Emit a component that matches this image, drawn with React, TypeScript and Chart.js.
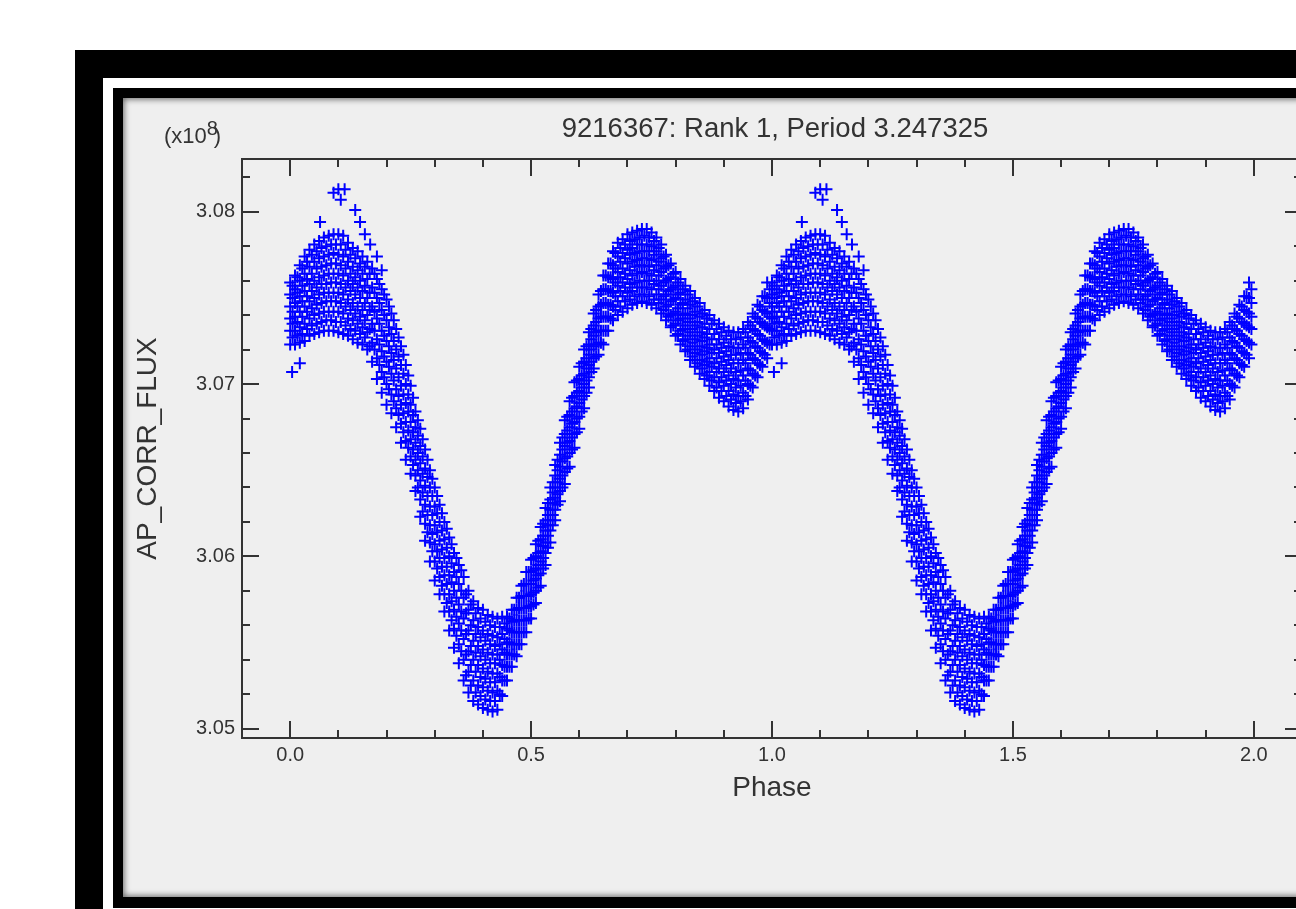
import React, { useEffect, useRef } from 'react';
import { Chart, registerables } from 'chart.js';

Chart.register(...registerables);

const FAMILY = "'Liberation Sans', Arial, Helvetica, sans-serif";

const TITLE = '9216367: Rank 1, Period 3.247325';
const X_TITLE = 'Phase';
const Y_TITLE = 'AP_CORR_FLUX';
const Y_SCALE_PREFIX = '(x10';
const Y_SCALE_EXP = '8';
const Y_SCALE_SUFFIX = ')';

const X_MIN = -0.1;
const X_MAX = 2.1;
const Y_MIN = 3.04946;
const Y_MAX = 3.08306;

const X_MAJOR = [0, 0.5, 1.0, 1.5, 2.0];
const X_MINOR = [-0.1, 0.1, 0.2, 0.3, 0.4, 0.6, 0.7, 0.8, 0.9, 1.1, 1.2, 1.3, 1.4, 1.6, 1.7, 1.8, 1.9, 2.1];
const Y_MAJOR = [3.05, 3.06, 3.07, 3.08];
const Y_MINOR = [3.052, 3.054, 3.056, 3.058, 3.062, 3.064, 3.066, 3.068, 3.072, 3.074, 3.076, 3.078, 3.082];

// phase grid of the folded light curve (one cycle, shown again at +1 as in the plot)
const PHASE = [
  0.00, 0.01, 0.02, 0.03, 0.04, 0.05, 0.06, 0.07, 0.08, 0.09,
  0.10, 0.11, 0.12, 0.13, 0.14, 0.15, 0.16, 0.17, 0.18, 0.19,
  0.20, 0.21, 0.22, 0.23, 0.24, 0.25, 0.26, 0.27, 0.28, 0.29,
  0.30, 0.31, 0.32, 0.33, 0.34, 0.35, 0.36, 0.37, 0.38, 0.39,
  0.40, 0.41, 0.42, 0.43, 0.44, 0.45, 0.46, 0.47, 0.48, 0.49,
  0.50, 0.51, 0.52, 0.53, 0.54, 0.55, 0.56, 0.57, 0.58, 0.59,
  0.60, 0.61, 0.62, 0.63, 0.64, 0.65, 0.66, 0.67, 0.68, 0.69,
  0.70, 0.71, 0.72, 0.73, 0.74, 0.75, 0.76, 0.77, 0.78, 0.79,
  0.80, 0.81, 0.82, 0.83, 0.84, 0.85, 0.86, 0.87, 0.88, 0.89,
  0.90, 0.91, 0.92, 0.93, 0.94, 0.95, 0.96, 0.97, 0.98, 0.99,
];
const PHASE_MID = [
  0.005, 0.015, 0.025, 0.035, 0.045, 0.055, 0.065, 0.075, 0.085, 0.095,
  0.105, 0.115, 0.125, 0.135, 0.145, 0.155, 0.165, 0.175, 0.185, 0.195,
  0.205, 0.215, 0.225, 0.235, 0.245, 0.255, 0.265, 0.275, 0.285, 0.295,
  0.305, 0.315, 0.325, 0.335, 0.345, 0.355, 0.365, 0.375, 0.385, 0.395,
  0.405, 0.415, 0.425, 0.435, 0.445, 0.455, 0.465, 0.475, 0.485, 0.495,
  0.505, 0.515, 0.525, 0.535, 0.545, 0.555, 0.565, 0.575, 0.585, 0.595,
  0.605, 0.615, 0.625, 0.635, 0.645, 0.655, 0.665, 0.675, 0.685, 0.695,
  0.705, 0.715, 0.725, 0.735, 0.745, 0.755, 0.765, 0.775, 0.785, 0.795,
  0.805, 0.815, 0.825, 0.835, 0.845, 0.855, 0.865, 0.875, 0.885, 0.895,
  0.905, 0.915, 0.925, 0.935, 0.945, 0.955, 0.965, 0.975, 0.985, 0.995,
];

// AP_CORR_FLUX (x1e8) tracks at PHASE, from highest to lowest
const FLUX_T1 = [
  3.0759, 3.0763, 3.0769, 3.0774, 3.0778, 3.0781, 3.0783, 3.0785, 3.0786, 3.0787,
  3.0787, 3.0786, 3.0782, 3.0779, 3.0777, 3.0774, 3.0771, 3.0767, 3.0761, 3.0755,
  3.0749, 3.0741, 3.0732, 3.0722, 3.0711, 3.0699, 3.0684, 3.0674, 3.0662, 3.0650,
  3.0640, 3.0630, 3.0620, 3.0611, 3.0602, 3.0595, 3.0588, 3.0580, 3.0574, 3.0570,
  3.0569, 3.0566, 3.0565, 3.0564, 3.0565, 3.0565, 3.0569, 3.0576, 3.0583, 3.0591,
  3.0598, 3.0607, 3.0617, 3.0628, 3.0640, 3.0653, 3.0666, 3.0679, 3.0690, 3.0701,
  3.0710, 3.0720, 3.0730, 3.0741, 3.0752, 3.0763, 3.0770, 3.0777, 3.0782, 3.0784,
  3.0787, 3.0788, 3.0789, 3.0790, 3.0790, 3.0788, 3.0785, 3.0781, 3.0775, 3.0770,
  3.0765, 3.0761, 3.0757, 3.0754, 3.0750, 3.0747, 3.0743, 3.0740, 3.0737, 3.0735,
  3.0733, 3.0731, 3.0730, 3.0730, 3.0732, 3.0736, 3.0741, 3.0746, 3.0751, 3.0759,
];
const FLUX_T2 = [
  3.0752, 3.0755, 3.0760, 3.0764, 3.0768, 3.0771, 3.0773, 3.0774, 3.0775, 3.0776,
  3.0775, 3.0774, 3.0771, 3.0768, 3.0766, 3.0764, 3.0761, 3.0756, 3.0750, 3.0743,
  3.0737, 3.0729, 3.0720, 3.0711, 3.0700, 3.0688, 3.0675, 3.0664, 3.0651, 3.0640,
  3.0629, 3.0620, 3.0610, 3.0600, 3.0591, 3.0584, 3.0576, 3.0569, 3.0563, 3.0559,
  3.0557, 3.0555, 3.0554, 3.0553, 3.0555, 3.0558, 3.0562, 3.0569, 3.0577, 3.0584,
  3.0591, 3.0600, 3.0610, 3.0621, 3.0633, 3.0647, 3.0659, 3.0671, 3.0682, 3.0693,
  3.0703, 3.0713, 3.0723, 3.0734, 3.0745, 3.0755, 3.0762, 3.0769, 3.0774, 3.0776,
  3.0778, 3.0779, 3.0781, 3.0781, 3.0781, 3.0780, 3.0777, 3.0773, 3.0768, 3.0762,
  3.0757, 3.0753, 3.0749, 3.0746, 3.0742, 3.0739, 3.0735, 3.0732, 3.0729, 3.0726,
  3.0724, 3.0722, 3.0721, 3.0721, 3.0723, 3.0727, 3.0732, 3.0738, 3.0743, 3.0750,
];
const FLUX_T3 = [
  3.0745, 3.0747, 3.0751, 3.0754, 3.0758, 3.0760, 3.0762, 3.0763, 3.0764, 3.0764,
  3.0764, 3.0763, 3.0760, 3.0758, 3.0756, 3.0754, 3.0750, 3.0745, 3.0738, 3.0731,
  3.0725, 3.0718, 3.0709, 3.0699, 3.0689, 3.0678, 3.0666, 3.0654, 3.0641, 3.0629,
  3.0618, 3.0609, 3.0599, 3.0589, 3.0580, 3.0572, 3.0564, 3.0557, 3.0551, 3.0548,
  3.0546, 3.0544, 3.0543, 3.0543, 3.0546, 3.0550, 3.0556, 3.0563, 3.0570, 3.0577,
  3.0584, 3.0593, 3.0603, 3.0615, 3.0627, 3.0640, 3.0652, 3.0664, 3.0675, 3.0686,
  3.0696, 3.0706, 3.0717, 3.0728, 3.0738, 3.0747, 3.0754, 3.0761, 3.0765, 3.0767,
  3.0770, 3.0771, 3.0772, 3.0773, 3.0773, 3.0772, 3.0769, 3.0765, 3.0760, 3.0755,
  3.0750, 3.0746, 3.0741, 3.0738, 3.0734, 3.0730, 3.0727, 3.0723, 3.0720, 3.0718,
  3.0716, 3.0714, 3.0712, 3.0712, 3.0714, 3.0718, 3.0724, 3.0729, 3.0735, 3.0741,
];
const FLUX_T4 = [
  3.0738, 3.0739, 3.0742, 3.0745, 3.0748, 3.0750, 3.0752, 3.0753, 3.0753, 3.0753,
  3.0753, 3.0752, 3.0749, 3.0747, 3.0745, 3.0743, 3.0740, 3.0735, 3.0726, 3.0719,
  3.0713, 3.0706, 3.0697, 3.0688, 3.0678, 3.0668, 3.0656, 3.0644, 3.0630, 3.0618,
  3.0607, 3.0599, 3.0589, 3.0578, 3.0569, 3.0561, 3.0552, 3.0545, 3.0540, 3.0537,
  3.0535, 3.0533, 3.0532, 3.0532, 3.0537, 3.0543, 3.0549, 3.0556, 3.0563, 3.0570,
  3.0578, 3.0587, 3.0597, 3.0608, 3.0621, 3.0634, 3.0645, 3.0657, 3.0667, 3.0678,
  3.0689, 3.0700, 3.0711, 3.0722, 3.0731, 3.0739, 3.0746, 3.0753, 3.0757, 3.0759,
  3.0761, 3.0763, 3.0764, 3.0765, 3.0764, 3.0763, 3.0760, 3.0757, 3.0752, 3.0748,
  3.0742, 3.0738, 3.0734, 3.0730, 3.0726, 3.0722, 3.0719, 3.0715, 3.0712, 3.0709,
  3.0707, 3.0705, 3.0703, 3.0702, 3.0705, 3.0709, 3.0715, 3.0721, 3.0726, 3.0733,
];
const FLUX_T5 = [
  3.0731, 3.0731, 3.0733, 3.0735, 3.0738, 3.0740, 3.0741, 3.0742, 3.0742, 3.0742,
  3.0742, 3.0741, 3.0738, 3.0737, 3.0735, 3.0733, 3.0730, 3.0724, 3.0715, 3.0707,
  3.0700, 3.0694, 3.0686, 3.0677, 3.0667, 3.0658, 3.0647, 3.0633, 3.0619, 3.0608,
  3.0597, 3.0588, 3.0578, 3.0568, 3.0558, 3.0549, 3.0540, 3.0533, 3.0528, 3.0525,
  3.0524, 3.0522, 3.0521, 3.0522, 3.0528, 3.0536, 3.0543, 3.0549, 3.0556, 3.0563,
  3.0571, 3.0580, 3.0590, 3.0602, 3.0615, 3.0627, 3.0638, 3.0649, 3.0660, 3.0671,
  3.0681, 3.0693, 3.0704, 3.0715, 3.0724, 3.0731, 3.0739, 3.0745, 3.0748, 3.0751,
  3.0753, 3.0754, 3.0756, 3.0756, 3.0756, 3.0755, 3.0752, 3.0749, 3.0745, 3.0740,
  3.0735, 3.0731, 3.0726, 3.0722, 3.0718, 3.0714, 3.0711, 3.0707, 3.0704, 3.0701,
  3.0699, 3.0696, 3.0694, 3.0693, 3.0695, 3.0700, 3.0706, 3.0712, 3.0718, 3.0724,
];
const FLUX_T6 = [
  3.0723, 3.0723, 3.0724, 3.0725, 3.0728, 3.0729, 3.0730, 3.0731, 3.0731, 3.0731,
  3.0730, 3.0729, 3.0728, 3.0726, 3.0724, 3.0723, 3.0720, 3.0713, 3.0703, 3.0695,
  3.0688, 3.0683, 3.0675, 3.0666, 3.0656, 3.0648, 3.0638, 3.0623, 3.0609, 3.0597,
  3.0586, 3.0578, 3.0568, 3.0557, 3.0547, 3.0538, 3.0528, 3.0521, 3.0516, 3.0514,
  3.0512, 3.0511, 3.0510, 3.0511, 3.0519, 3.0528, 3.0536, 3.0542, 3.0549, 3.0556,
  3.0564, 3.0573, 3.0583, 3.0595, 3.0608, 3.0621, 3.0632, 3.0642, 3.0652, 3.0663,
  3.0674, 3.0686, 3.0698, 3.0709, 3.0717, 3.0723, 3.0731, 3.0737, 3.0740, 3.0742,
  3.0744, 3.0746, 3.0747, 3.0748, 3.0747, 3.0746, 3.0744, 3.0741, 3.0737, 3.0733,
  3.0728, 3.0723, 3.0719, 3.0714, 3.0710, 3.0706, 3.0703, 3.0699, 3.0696, 3.0692,
  3.0690, 3.0687, 3.0685, 3.0684, 3.0686, 3.0691, 3.0698, 3.0704, 3.0710, 3.0715,
];

// tracks at PHASE_MID, lying between the tracks above
const FLUX_M1 = [
  3.0757, 3.0762, 3.0767, 3.0771, 3.0775, 3.0777, 3.0779, 3.0780, 3.0781, 3.0781,
  3.0781, 3.0778, 3.0775, 3.0773, 3.0770, 3.0768, 3.0764, 3.0764, 3.0758, 3.0752,
  3.0745, 3.0737, 3.0727, 3.0717, 3.0705, 3.0692, 3.0679, 3.0668, 3.0656, 3.0645,
  3.0635, 3.0625, 3.0616, 3.0607, 3.0599, 3.0592, 3.0578, 3.0572, 3.0567, 3.0564,
  3.0562, 3.0560, 3.0559, 3.0559, 3.0561, 3.0564, 3.0569, 3.0576, 3.0584, 3.0591,
  3.0599, 3.0609, 3.0619, 3.0631, 3.0643, 3.0656, 3.0669, 3.0681, 3.0692, 3.0702,
  3.0712, 3.0722, 3.0732, 3.0743, 3.0754, 3.0763, 3.0770, 3.0776, 3.0779, 3.0781,
  3.0783, 3.0784, 3.0785, 3.0786, 3.0785, 3.0783, 3.0779, 3.0774, 3.0769, 3.0764,
  3.0759, 3.0755, 3.0752, 3.0748, 3.0745, 3.0741, 3.0738, 3.0735, 3.0732, 3.0730,
  3.0728, 3.0726, 3.0726, 3.0727, 3.0730, 3.0734, 3.0739, 3.0745, 3.0751, 3.0755,
];
const FLUX_M2 = [
  3.0750, 3.0753, 3.0757, 3.0761, 3.0764, 3.0767, 3.0768, 3.0769, 3.0770, 3.0770,
  3.0769, 3.0767, 3.0764, 3.0762, 3.0760, 3.0757, 3.0753, 3.0753, 3.0747, 3.0740,
  3.0733, 3.0725, 3.0716, 3.0706, 3.0694, 3.0682, 3.0670, 3.0658, 3.0646, 3.0635,
  3.0625, 3.0615, 3.0605, 3.0596, 3.0588, 3.0580, 3.0567, 3.0560, 3.0555, 3.0553,
  3.0551, 3.0549, 3.0548, 3.0549, 3.0552, 3.0557, 3.0563, 3.0570, 3.0577, 3.0584,
  3.0592, 3.0602, 3.0612, 3.0624, 3.0637, 3.0650, 3.0662, 3.0673, 3.0684, 3.0695,
  3.0705, 3.0715, 3.0726, 3.0736, 3.0746, 3.0755, 3.0762, 3.0767, 3.0771, 3.0773,
  3.0775, 3.0776, 3.0777, 3.0777, 3.0777, 3.0775, 3.0771, 3.0767, 3.0761, 3.0756,
  3.0752, 3.0747, 3.0744, 3.0740, 3.0736, 3.0733, 3.0729, 3.0726, 3.0723, 3.0721,
  3.0719, 3.0717, 3.0717, 3.0718, 3.0721, 3.0725, 3.0731, 3.0736, 3.0742, 3.0747,
];
const FLUX_M3 = [
  3.0742, 3.0745, 3.0748, 3.0751, 3.0754, 3.0756, 3.0758, 3.0758, 3.0759, 3.0759,
  3.0758, 3.0756, 3.0754, 3.0752, 3.0750, 3.0747, 3.0743, 3.0742, 3.0735, 3.0728,
  3.0722, 3.0714, 3.0704, 3.0694, 3.0684, 3.0672, 3.0660, 3.0648, 3.0635, 3.0624,
  3.0614, 3.0604, 3.0594, 3.0585, 3.0576, 3.0568, 3.0555, 3.0548, 3.0544, 3.0542,
  3.0540, 3.0538, 3.0538, 3.0540, 3.0544, 3.0550, 3.0556, 3.0563, 3.0570, 3.0577,
  3.0586, 3.0595, 3.0606, 3.0618, 3.0631, 3.0643, 3.0655, 3.0666, 3.0677, 3.0687,
  3.0698, 3.0709, 3.0720, 3.0730, 3.0739, 3.0747, 3.0754, 3.0759, 3.0762, 3.0764,
  3.0766, 3.0768, 3.0769, 3.0769, 3.0768, 3.0766, 3.0763, 3.0759, 3.0754, 3.0749,
  3.0744, 3.0740, 3.0736, 3.0732, 3.0728, 3.0725, 3.0721, 3.0718, 3.0715, 3.0713,
  3.0711, 3.0709, 3.0707, 3.0708, 3.0712, 3.0717, 3.0722, 3.0728, 3.0734, 3.0739,
];
const FLUX_M4 = [
  3.0735, 3.0736, 3.0739, 3.0742, 3.0744, 3.0746, 3.0747, 3.0748, 3.0748, 3.0748,
  3.0747, 3.0745, 3.0743, 3.0741, 3.0739, 3.0737, 3.0732, 3.0731, 3.0723, 3.0716,
  3.0710, 3.0702, 3.0693, 3.0683, 3.0673, 3.0662, 3.0650, 3.0637, 3.0624, 3.0613,
  3.0603, 3.0594, 3.0584, 3.0574, 3.0565, 3.0557, 3.0543, 3.0537, 3.0533, 3.0530,
  3.0529, 3.0527, 3.0527, 3.0530, 3.0536, 3.0543, 3.0549, 3.0556, 3.0563, 3.0571,
  3.0579, 3.0589, 3.0599, 3.0612, 3.0624, 3.0636, 3.0647, 3.0658, 3.0669, 3.0680,
  3.0691, 3.0702, 3.0713, 3.0723, 3.0731, 3.0739, 3.0746, 3.0751, 3.0754, 3.0756,
  3.0758, 3.0759, 3.0760, 3.0760, 3.0760, 3.0758, 3.0755, 3.0751, 3.0746, 3.0741,
  3.0737, 3.0732, 3.0728, 3.0724, 3.0720, 3.0717, 3.0713, 3.0710, 3.0707, 3.0704,
  3.0702, 3.0700, 3.0698, 3.0699, 3.0702, 3.0708, 3.0714, 3.0719, 3.0725, 3.0732,
];
const FLUX_M5 = [
  3.0727, 3.0728, 3.0729, 3.0732, 3.0734, 3.0735, 3.0736, 3.0737, 3.0737, 3.0736,
  3.0736, 3.0734, 3.0732, 3.0731, 3.0729, 3.0727, 3.0722, 3.0720, 3.0711, 3.0704,
  3.0697, 3.0690, 3.0682, 3.0672, 3.0663, 3.0653, 3.0640, 3.0626, 3.0614, 3.0603,
  3.0593, 3.0583, 3.0573, 3.0563, 3.0554, 3.0545, 3.0531, 3.0525, 3.0521, 3.0519,
  3.0517, 3.0516, 3.0516, 3.0520, 3.0528, 3.0536, 3.0543, 3.0549, 3.0556, 3.0564,
  3.0572, 3.0582, 3.0593, 3.0605, 3.0618, 3.0630, 3.0640, 3.0651, 3.0662, 3.0672,
  3.0684, 3.0695, 3.0707, 3.0716, 3.0724, 3.0731, 3.0738, 3.0743, 3.0745, 3.0748,
  3.0749, 3.0751, 3.0752, 3.0752, 3.0751, 3.0749, 3.0747, 3.0743, 3.0739, 3.0734,
  3.0729, 3.0725, 3.0720, 3.0716, 3.0712, 3.0709, 3.0705, 3.0702, 3.0698, 3.0696,
  3.0693, 3.0691, 3.0689, 3.0690, 3.0693, 3.0699, 3.0705, 3.0711, 3.0717, 3.0723,
];

// sparse points outside the main band
const OUTLIER_PHASE = [0.004, 0.020, 0.062, 0.090, 0.100, 0.105, 0.113, 0.135, 0.145, 0.155, 0.166, 0.180, 0.190];
const OUTLIER_FLUX = [3.0707, 3.0712, 3.0794, 3.0811, 3.0813, 3.0807, 3.0813, 3.0801, 3.0794, 3.0787, 3.0781, 3.0774, 3.0766];

const TRACKS = [FLUX_T1, FLUX_T2, FLUX_T3, FLUX_T4, FLUX_T5, FLUX_T6];
const MID_TRACKS = [FLUX_M1, FLUX_M2, FLUX_M3, FLUX_M4, FLUX_M5];

const POINT_COLOR = '#0000ff';
const AXIS_COLOR = '#333333';
const TEXT_COLOR = '#333333';

function folded(phases: number[], values: number[]) {
  const first = phases.map((p, i) => ({ x: p, y: values[i] }));
  const second = phases.map((p, i) => ({ x: p + 1, y: values[i] }));
  return first.concat(second);
}

const pointStyle = {
  showLine: false,
  pointStyle: 'cross' as const,
  pointRadius: 6,
  pointHoverRadius: 6,
  pointBorderWidth: 2,
  borderColor: POINT_COLOR,
  backgroundColor: POINT_COLOR,
};

const frameTicks = {
  id: 'frameTicks',
  afterDatasetsDraw(chart: any) {
    const { ctx, chartArea, scales } = chart;
    const { left, right, top, bottom } = chartArea;
    const xs = scales.x;
    const ys = scales.y;
    ctx.save();
    ctx.strokeStyle = AXIS_COLOR;
    ctx.lineWidth = 2;
    ctx.beginPath();
    ctx.rect(left, top, right - left, bottom - top);
    const xt = (vals: number[], len: number) => {
      vals.forEach((v) => {
        const px = Math.round(xs.getPixelForValue(v));
        ctx.moveTo(px, bottom);
        ctx.lineTo(px, bottom - len);
        ctx.moveTo(px, top);
        ctx.lineTo(px, top + len);
      });
    };
    const yt = (vals: number[], len: number) => {
      vals.forEach((v) => {
        const py = Math.round(ys.getPixelForValue(v));
        ctx.moveTo(left, py);
        ctx.lineTo(left + len, py);
        ctx.moveTo(right, py);
        ctx.lineTo(right - len, py);
      });
    };
    xt(X_MAJOR, 17);
    xt(X_MINOR, 8);
    yt(Y_MAJOR, 17);
    yt(Y_MINOR, 8);
    ctx.stroke();
    ctx.restore();
  },
};

const texts = {
  id: 'texts',
  afterDraw(chart: any) {
    const { ctx, chartArea } = chart;
    ctx.save();
    ctx.fillStyle = TEXT_COLOR;
    ctx.textBaseline = 'alphabetic';
    ctx.textAlign = 'center';
    ctx.font = `27.5px ${FAMILY}`;
    ctx.fillText(TITLE, (chartArea.left + chartArea.right) / 2 + 3, 39);
    ctx.textAlign = 'left';
    ctx.font = `22px ${FAMILY}`;
    const x0 = 41;
    ctx.fillText(Y_SCALE_PREFIX, x0, 45);
    const w = ctx.measureText(Y_SCALE_PREFIX).width;
    ctx.font = `20px ${FAMILY}`;
    ctx.fillText(Y_SCALE_EXP, x0 + w, 37);
    ctx.font = `22px ${FAMILY}`;
    ctx.fillText(Y_SCALE_SUFFIX, x0 + w + 7, 45);
    ctx.restore();
  },
};

export default function App() {
  const ref = useRef<HTMLCanvasElement>(null);
  useEffect(() => {
    if (!ref.current) return;
    const datasets: any[] = [];
    TRACKS.forEach((t, i) => {
      datasets.push({ label: `track ${i + 1}`, data: folded(PHASE, t), ...pointStyle });
    });
    MID_TRACKS.forEach((t, i) => {
      datasets.push({ label: `mid track ${i + 1}`, data: folded(PHASE_MID, t), ...pointStyle });
    });
    datasets.push({ label: 'outliers', data: folded(OUTLIER_PHASE, OUTLIER_FLUX), ...pointStyle });
    const chart = new Chart(ref.current, {
      type: 'scatter',
      data: { datasets },
      options: {
        responsive: false,
        animation: false,
        devicePixelRatio: 1,
        layout: { padding: { top: 61, right: 14, left: 0, bottom: 0 } },
        plugins: {
          legend: { display: false },
          tooltip: { enabled: false },
          title: { display: false },
        },
        scales: {
          x: {
            type: 'linear',
            min: X_MIN,
            max: X_MAX,
            afterFit: (s: any) => {
              s.height = 159;
            },
            grid: { display: false, drawTicks: false },
            border: { display: false },
            ticks: {
              stepSize: 0.5,
              includeBounds: false,
              padding: 5,
              color: TEXT_COLOR,
              font: { family: FAMILY, size: 20 },
              maxRotation: 0,
              autoSkip: false,
              callback: (v: any) => Number(v).toFixed(1),
            },
            title: {
              display: true,
              text: X_TITLE,
              color: TEXT_COLOR,
              font: { family: FAMILY, size: 28 },
              padding: { top: 0, bottom: 92 },
            },
          },
          y: {
            type: 'linear',
            min: Y_MIN,
            max: Y_MAX,
            afterFit: (s: any) => {
              s.width = 119;
            },
            grid: { display: false, drawTicks: false },
            border: { display: false },
            ticks: {
              stepSize: 0.01,
              includeBounds: false,
              padding: 7,
              color: TEXT_COLOR,
              font: { family: FAMILY, size: 20 },
              autoSkip: false,
              callback: (v: any) => Number(v).toFixed(2),
            },
            title: {
              display: true,
              text: Y_TITLE,
              color: TEXT_COLOR,
              font: { family: FAMILY, size: 28 },
              padding: { top: 8.5, bottom: 0 },
            },
          },
        },
      },
      plugins: [frameTicks, texts],
    } as any);
    return () => chart.destroy();
  }, []);

  return (
    <div style={{ position: 'absolute', left: 0, top: 0, width: 1296, height: 909, overflow: 'hidden', background: '#ffffff' }}>
      <div style={{ position: 'absolute', left: 75, top: 50, width: 1300, height: 900, background: '#000' }} />
      <div style={{ position: 'absolute', left: 103, top: 78, width: 1300, height: 900, background: '#fff' }} />
      <div style={{ position: 'absolute', left: 113, top: 88, width: 1300, height: 820, background: '#000' }} />
      <div
        style={{
          position: 'absolute',
          left: 123,
          top: 98,
          width: 1300,
          height: 799,
          background: '#efefef',
          boxShadow: 'inset 0 0 6px 1px rgba(0,0,0,0.6)',
        }}
      />
      <canvas
        ref={ref}
        width={1193}
        height={799}
        style={{ position: 'absolute', left: 123, top: 98, width: 1193, height: 799, display: 'block' }}
      />
    </div>
  );
}
